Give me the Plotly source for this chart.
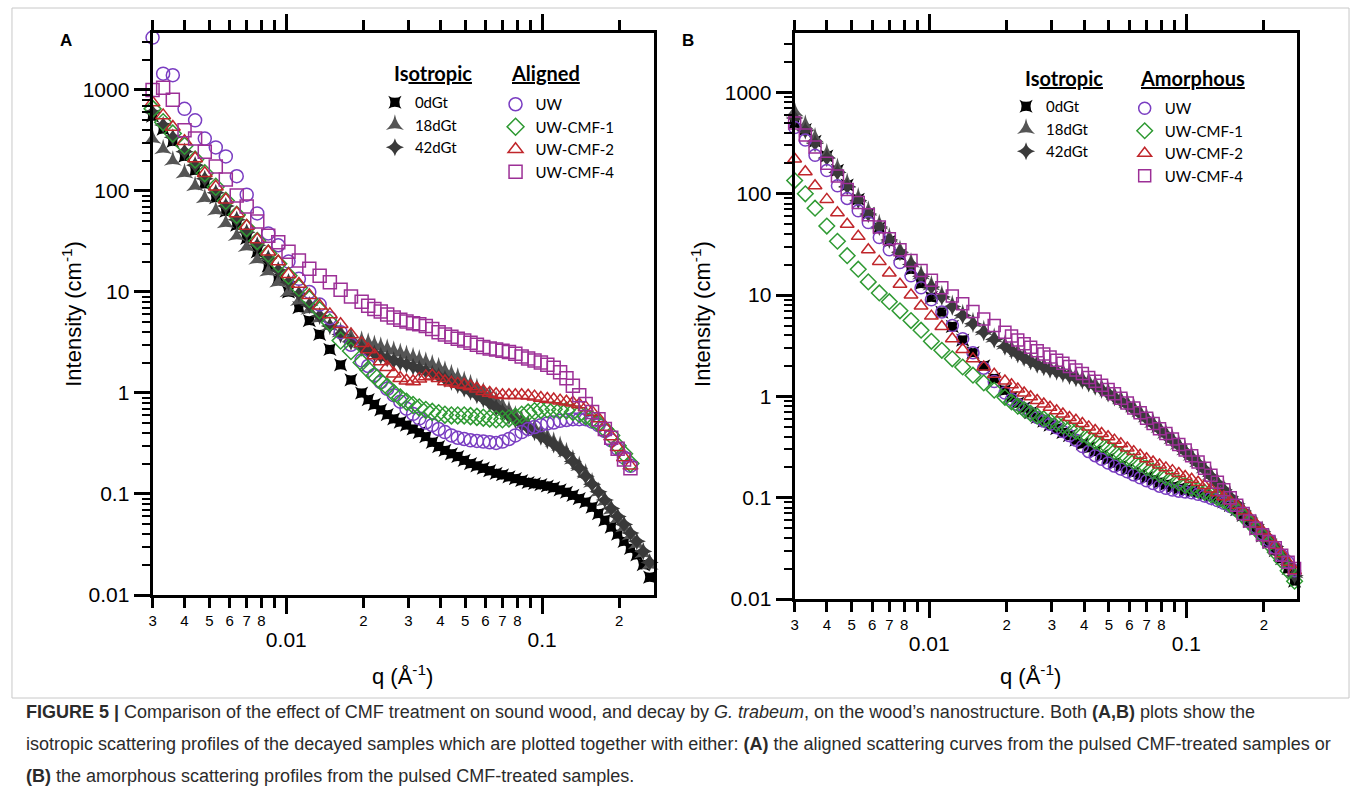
import math
import plotly.graph_objects as go

W, H = 1357, 802          # reference geometry (layout positions are given in these pixels)
FIG_H = 813               # rendered height (the capture is squeezed back to 802)

# ---------------- data ----------------
# q grid (Å^-1): coarser at low q, denser at high q (as in the measured curves)
q = [0.0030, 0.0033, 0.0036, 0.0040, 0.0044, 0.0048, 0.0053, 0.0058, 0.0064, 0.0070,
     0.0077, 0.0085, 0.0093, 0.0102, 0.0112, 0.0123, 0.0135, 0.0148, 0.0163, 0.0179,
     0.0197,
     0.0209, 0.0221, 0.0234, 0.0248, 0.0263, 0.0279, 0.0295, 0.0313, 0.0331, 0.0351,
     0.0372, 0.0394, 0.0417, 0.0442, 0.0468, 0.0496, 0.0525, 0.0556, 0.0589, 0.0624,
     0.0661, 0.0700, 0.0742, 0.0786, 0.0832, 0.0882, 0.0934, 0.0989, 0.1048, 0.1110,
     0.1176, 0.1245, 0.1319, 0.1397, 0.1480, 0.1568, 0.1661, 0.1759, 0.1863, 0.1974,
     0.2091, 0.2215, 0.2346, 0.2485, 0.2633]

# Panel A - isotropic (decayed)
A_0dGt = [550, 410, 310, 220, 160, 118, 86, 63, 46, 34, 25, 18, 13.5, 10, 7, 5.2, 3.8, 2.7, 1.9, 1.35, 1.0,
          0.86, 0.77, 0.68, 0.61, 0.555, 0.515, 0.48, 0.44, 0.405, 0.37,
          0.325, 0.295, 0.27, 0.25, 0.235, 0.215, 0.2, 0.19, 0.18, 0.17,
          0.16, 0.155, 0.148, 0.142, 0.136, 0.13, 0.127, 0.124, 0.12, 0.116,
          0.11, 0.104, 0.097, 0.09, 0.083, 0.074, 0.064, 0.055, 0.047, 0.04,
          0.034, 0.029, 0.025, 0.02, 0.015]
A_18dGt = [330, 260, 200, 150, 112, 85, 64, 48, 36, 28, 21, 16, 12.5, 10, 8.2, 6.7, 5.5, 4.6, 4.0, 3.6, 3.3,
           3.15, 3.0, 2.88, 2.75, 2.62, 2.5, 2.38, 2.26, 2.15, 2.04,
           1.92, 1.8, 1.66, 1.54, 1.43, 1.32, 1.22, 1.12, 1.02, 0.93,
           0.84, 0.75, 0.67, 0.6, 0.54, 0.49, 0.45, 0.41, 0.37, 0.33,
           0.3, 0.26, 0.22, 0.19, 0.16, 0.13, 0.105, 0.085, 0.07, 0.057,
           0.047, 0.039, 0.032, 0.026, 0.02]
A_42dGt = [600, 450, 340, 245, 180, 132, 96, 71, 52, 39, 29, 21.5, 16.5, 12.5, 9.6, 7.4, 5.8, 4.6, 3.8, 3.2, 2.8,
           2.6, 2.45, 2.33, 2.2, 2.1, 2.0, 1.92, 1.83, 1.74, 1.65,
           1.56, 1.47, 1.38, 1.29, 1.2, 1.11, 1.03, 0.95, 0.87, 0.79,
           0.72, 0.65, 0.59, 0.54, 0.49, 0.45, 0.41, 0.37, 0.34, 0.31,
           0.28, 0.25, 0.21, 0.18, 0.15, 0.125, 0.105, 0.087, 0.072, 0.06,
           0.05, 0.041, 0.034, 0.027, 0.021]
# Panel A - aligned (CMF-treated), end near q = 0.22
A_UW = [3300, 1450, 1400, 650, 500, 330, 270, 220, 140, 92, 60, 38, 29, 20, 13.5, 10, 7.5, 5.5, 4.0, 3.0, 2.1,
        1.85, 1.5, 1.28, 1.1, 0.95, 0.82, 0.7, 0.62, 0.56, 0.51,
        0.48, 0.44, 0.41, 0.38, 0.36, 0.35, 0.34, 0.335, 0.33, 0.325,
        0.32, 0.33, 0.35, 0.38, 0.41, 0.44, 0.46, 0.48, 0.5, 0.51,
        0.53, 0.54, 0.55, 0.55, 0.55, 0.52, 0.48, 0.42, 0.34, 0.28,
        0.23, 0.19]
A_CMF1 = [650, 480, 370, 280, 205, 150, 110, 80, 58, 43, 32, 24, 19, 14.5, 11, 8.5, 6.6, 5.0, 3.3, 2.6, 2.0,
          1.7, 1.48, 1.3, 1.15, 1.0, 0.9, 0.82, 0.76, 0.72, 0.68,
          0.65, 0.63, 0.61, 0.6, 0.6, 0.6, 0.59, 0.58, 0.57, 0.56,
          0.55, 0.55, 0.56, 0.58, 0.61, 0.64, 0.66, 0.68, 0.69, 0.69,
          0.68, 0.67, 0.65, 0.62, 0.59, 0.55, 0.5, 0.44, 0.38, 0.3,
          0.25, 0.2]
A_CMF2 = [750, 560, 430, 310, 210, 150, 110, 82, 60, 45, 33, 25, 20, 15, 12, 9.3, 7.3, 6.0, 4.8, 3.8, 3.1,
          2.7, 2.35, 2.05, 1.8, 1.55, 1.4, 1.32, 1.3, 1.38, 1.46,
          1.48, 1.4, 1.3, 1.26, 1.23, 1.2, 1.16, 1.1, 1.04, 1.0,
          0.97, 0.95, 0.95, 0.95, 0.95, 0.94, 0.92, 0.89, 0.87, 0.86,
          0.84, 0.82, 0.8, 0.77, 0.72, 0.65, 0.56, 0.46, 0.37, 0.29,
          0.23, 0.19]
A_CMF4 = [1000, 1050, 800, 400, 330, 245, 175, 130, 90, 70, 50, 36, 31, 25, 20.5, 17, 14.5, 12.5, 10.5, 9, 8,
          7.3, 6.8, 6.4, 6.0, 5.6, 5.3, 5.1, 4.9, 4.8, 4.6,
          4.3, 4.0, 3.8, 3.6, 3.45, 3.3, 3.15, 3.0, 2.85, 2.75,
          2.7, 2.62, 2.55, 2.45, 2.3, 2.2, 2.1, 2.0, 1.9, 1.78,
          1.6, 1.4, 1.18, 0.95, 0.78, 0.65, 0.55, 0.44, 0.36, 0.28,
          0.22, 0.18]

# Panel B - isotropic (decayed)
B_0dGt = [500, 430, 330, 235, 170, 122, 88, 64, 46, 34, 25, 18, 13, 9.5, 6.8, 4.9, 3.6, 2.7, 2.0, 1.5, 1.15,
          0.98, 0.86, 0.77, 0.69, 0.62, 0.57, 0.52, 0.48, 0.44, 0.41,
          0.37, 0.34, 0.31, 0.285, 0.26, 0.24, 0.22, 0.205, 0.19, 0.178,
          0.167, 0.158, 0.15, 0.142, 0.135, 0.128, 0.123, 0.119, 0.115, 0.112,
          0.108, 0.103, 0.097, 0.091, 0.084, 0.076, 0.067, 0.058, 0.049, 0.042,
          0.036, 0.03, 0.025, 0.02, 0.015]
B_18dGt = [650, 480, 360, 250, 180, 128, 92, 68, 50, 37, 28, 21, 16, 12.5, 10, 8, 6.5, 5.4, 4.5, 3.8, 3.25,
           3.0, 2.75, 2.52, 2.32, 2.15, 2.02, 1.92, 1.83, 1.75, 1.67,
           1.59, 1.5, 1.41, 1.32, 1.22, 1.12, 1.03, 0.94, 0.86, 0.78,
           0.7, 0.62, 0.55, 0.49, 0.43, 0.38, 0.335, 0.295, 0.26, 0.225,
           0.195, 0.168, 0.143, 0.122, 0.104, 0.088, 0.075, 0.064, 0.055, 0.047,
           0.04, 0.034, 0.028, 0.023, 0.018]
B_42dGt = [560, 420, 315, 225, 162, 118, 86, 63, 47, 35, 26.5, 20, 15.3, 12, 9.6, 7.7, 6.3, 5.2, 4.3, 3.65, 3.1,
           2.85, 2.6, 2.4, 2.22, 2.06, 1.94, 1.84, 1.75, 1.67, 1.59,
           1.51, 1.43, 1.34, 1.25, 1.16, 1.07, 0.98, 0.9, 0.82, 0.74,
           0.67, 0.6, 0.53, 0.47, 0.42, 0.37, 0.325, 0.285, 0.25, 0.218,
           0.19, 0.163, 0.14, 0.12, 0.102, 0.087, 0.074, 0.063, 0.054, 0.046,
           0.039, 0.033, 0.027, 0.022, 0.017]
# Panel B - amorphous (CMF-treated)
B_UW = [450, 340, 240, 170, 120, 90, 68, 52, 37, 28, 21, 15.5, 11.8, 9, 6.8, 5.0, 3.7, 2.7, 1.9, 1.4, 1.08,
        0.93, 0.83, 0.75, 0.68, 0.62, 0.57, 0.53, 0.49, 0.45, 0.41,
        0.37, 0.32, 0.285, 0.26, 0.24, 0.22, 0.205, 0.192, 0.18, 0.168,
        0.157, 0.147, 0.138, 0.13, 0.124, 0.119, 0.116, 0.114, 0.112, 0.108,
        0.104, 0.099, 0.094, 0.088, 0.082, 0.075, 0.067, 0.059, 0.051, 0.044,
        0.038, 0.032, 0.027, 0.023, 0.019]
B_CMF1 = [135, 100, 72, 48, 34, 24.5, 18, 13.5, 10.5, 8.6, 7, 5.6, 4.5, 3.5, 2.85, 2.35, 1.95, 1.62, 1.36, 1.15, 0.98,
          0.88, 0.8, 0.74, 0.68, 0.64, 0.6, 0.57, 0.54, 0.51, 0.48,
          0.45, 0.42, 0.39, 0.36, 0.335, 0.31, 0.285, 0.265, 0.245, 0.228,
          0.212, 0.197, 0.183, 0.17, 0.159, 0.149, 0.14, 0.132, 0.125, 0.119,
          0.113, 0.107, 0.1, 0.093, 0.085, 0.076, 0.066, 0.057, 0.049, 0.042,
          0.035, 0.029, 0.024, 0.019, 0.015]
B_CMF2 = [220, 165, 120, 88, 65, 50, 38, 28, 21.5, 16.5, 12.8, 10, 7.8, 6.2, 4.9, 3.7, 2.9, 2.35, 1.95, 1.65, 1.42,
          1.3, 1.18, 1.08, 0.99, 0.91, 0.84, 0.78, 0.72, 0.67, 0.62,
          0.58, 0.54, 0.5, 0.46, 0.43, 0.4, 0.37, 0.34, 0.31, 0.285,
          0.262, 0.242, 0.225, 0.21, 0.197, 0.185, 0.173, 0.162, 0.152, 0.142,
          0.132, 0.122, 0.112, 0.102, 0.093, 0.084, 0.074, 0.064, 0.055, 0.047,
          0.04, 0.034, 0.028, 0.023, 0.019]
B_CMF4 = [500, 380, 290, 200, 150, 110, 82, 62, 47, 36, 28, 22, 17.5, 14, 11.8, 9.8, 8.2, 6.9, 5.8, 5.0, 4.3,
          3.95, 3.6, 3.3, 3.05, 2.82, 2.62, 2.45, 2.28, 2.12, 1.97,
          1.82, 1.68, 1.54, 1.41, 1.29, 1.17, 1.06, 0.96, 0.86, 0.77,
          0.69, 0.61, 0.54, 0.48, 0.43, 0.38, 0.335, 0.295, 0.26, 0.225,
          0.195, 0.167, 0.142, 0.12, 0.1, 0.084, 0.07, 0.059, 0.05, 0.043,
          0.037, 0.032, 0.027, 0.023, 0.02]

iso_names = ["0dGt", "18dGt", "42dGt"]
cmf_names = ["UW", "UW-CMF-1", "UW-CMF-2", "UW-CMF-4"]

x_label_vals = [0.003, 0.004, 0.005, 0.006, 0.007, 0.008,
                0.02, 0.03, 0.04, 0.05, 0.06, 0.07, 0.08, 0.2]
x_label_text = ["3", "4", "5", "6", "7", "8", "2", "3", "4", "5", "6", "7", "8", "2"]
x_unlabelled = [0.009, 0.09]
x_major_vals = [0.01, 0.1]
x_major_text = ["0.01", "0.1"]
y_major_vals = [0.01, 0.1, 1, 10, 100, 1000]
y_major_text = ["0.01", "0.1", "1", "10", "100", "1000"]

# ---------------- styles ----------------
ISO_STYLE = {
    "0dGt": dict(symbol="star-square", color="#000000", size=12),
    "18dGt": dict(symbol="star-triangle-up", color="#555555", size=13),
    "42dGt": dict(symbol="star-diamond", color="#3a3a3a", size=13),
}
CMF_STYLE = {
    "UW": dict(symbol="circle-open", color="#7a3dc2"),
    "UW-CMF-1": dict(symbol="diamond-open", color="#2f9a33"),
    "UW-CMF-2": dict(symbol="triangle-up-open", color="#c0262b"),
    "UW-CMF-4": dict(symbol="square-open", color="#9c2f96"),
}
TICK_FONT = "Liberation Sans, Arial, sans-serif"
LEG_FONT = "Lato, Open Sans, sans-serif"

fig = go.Figure()


def add_iso(vals, xa, ya, leg):
    for name, v in zip(iso_names, vals):
        st = ISO_STYLE[name]
        fig.add_trace(go.Scatter(
            x=q[:len(v)], y=v, mode="markers", name=name, xaxis=xa, yaxis=ya,
            legend=leg, cliponaxis=False,
            marker=dict(symbol=st["symbol"], color=st["color"], size=st["size"],
                        line=dict(width=0))))


def add_cmf(vals, xa, ya, leg, size):
    for name, v in zip(cmf_names, vals):
        st = CMF_STYLE[name]
        fig.add_trace(go.Scatter(
            x=q[:len(v)], y=v, mode="markers", name=name, xaxis=xa, yaxis=ya,
            legend=leg, cliponaxis=False,
            marker=dict(symbol=st["symbol"], color=st["color"], size=size,
                        line=dict(width=1.5, color=st["color"]))))


add_iso([A_0dGt, A_18dGt, A_42dGt], "x", "y", "legend")
add_cmf([A_UW, A_CMF1, A_CMF2, A_CMF4], "x", "y", "legend2", 13)
add_iso([B_0dGt, B_18dGt, B_42dGt], "x2", "y2", "legend3")
add_cmf([B_UW, B_CMF1, B_CMF2, B_CMF4], "x2", "y2", "legend4", 12)

# empty helper traces so that the overlay axes (decade ticks) get drawn
for xa, ya in (("x3", "y"), ("x4", "y2")):
    fig.add_trace(go.Scatter(x=[], y=[], xaxis=xa, yaxis=ya, mode="markers",
                             showlegend=False, hoverinfo="skip"))

# ---------------- axes ----------------
y_minor = [m * 10 ** e for e in range(-2, 4) for m in range(2, 10)]


def xaxis_main(domain, xmax, anchor):
    return dict(type="log", domain=domain, anchor=anchor,
                range=[math.log10(0.003), math.log10(xmax)],
                showline=True, linecolor="black", linewidth=3, mirror="allticks",
                ticks="outside", ticklen=10, tickwidth=3, tickcolor="black",
                tickmode="array", tickvals=x_label_vals, ticktext=x_label_text,
                tickfont=dict(family=TICK_FONT, size=15, color="black"),
                minor=dict(tickmode="array", tickvals=x_unlabelled, ticks="outside",
                           ticklen=10, tickwidth=3, tickcolor="black"),
                showgrid=False, zeroline=False)


def xaxis_major(over, xmax, anchor):
    return dict(type="log", overlaying=over, anchor=anchor, side="bottom",
                range=[math.log10(0.003), math.log10(xmax)],
                showline=False, mirror="allticks",
                ticks="outside", ticklen=18, tickwidth=3, tickcolor="black",
                tickmode="array", tickvals=x_major_vals, ticktext=x_major_text,
                tickfont=dict(family=TICK_FONT, size=21, color="black"),
                ticklabelstandoff=8, showgrid=False, zeroline=False)


def yaxis(domain, ymax, anchor):
    return dict(type="log", domain=domain, anchor=anchor, range=[-2, ymax],
                showline=True, linecolor="black", linewidth=3, mirror=True,
                ticks="outside", ticklen=16, tickwidth=3, tickcolor="black",
                tickmode="array", tickvals=y_major_vals, ticktext=y_major_text,
                tickfont=dict(family=TICK_FONT, size=21, color="black"),
                minor=dict(tickmode="array", tickvals=y_minor, ticks="outside",
                           ticklen=8, tickwidth=2, tickcolor="black"),
                showgrid=False, zeroline=False)


fig.update_layout(
    xaxis=xaxis_main([149 / W, 652 / W], 0.274, "y"),
    yaxis=yaxis([1 - 595 / H, 1 - 33 / H], 3.564, "x"),
    xaxis3=xaxis_major("x", 0.274, "y"),
    xaxis2=xaxis_main([793 / W, 1297 / W], 0.2695, "y2"),
    yaxis2=yaxis([1 - 599 / H, 1 - 33 / H], 3.587, "x2"),
    xaxis4=xaxis_major("x2", 0.2695, "y2"),
)


def leg(x, y):
    return dict(x=x / W, y=1 - y / H, xanchor="left", yanchor="top",
                bgcolor="rgba(0,0,0,0)", borderwidth=0,
                font=dict(family=LEG_FONT, size=15, color="black"),
                itemwidth=30, tracegroupgap=0)


fig.update_layout(
    legend=leg(372, 86),
    legend2=leg(493, 88),
    legend3=leg(1005, 90),
    legend4=leg(1124, 92),
)

# ---------------- text ----------------
ann = []


def txt(text, x, y, size, family=TICK_FONT, **kw):
    d = dict(text=text, x=x / W, y=1 - y / H, xref="paper", yref="paper",
             xanchor="center", yanchor="middle", showarrow=False,
             font=dict(family=family, size=size, color="black"))
    d.update(kw)
    ann.append(d)


# legend headings
txt("<b>Is<u>otropic</u></b>", 389, 73, 20, family=LEG_FONT, xanchor="left")
txt("<b><u>Aligned</u></b>", 506, 73, 20, family=LEG_FONT, xanchor="left")
txt("<b>Is<u>otropic</u></b>", 1022, 78, 20, family=LEG_FONT, xanchor="left")
txt("<b><u>Amorphous</u></b>", 1137, 78, 20, family=LEG_FONT, xanchor="left")

txt("<b>A</b>", 62, 41, 17)
txt("<b>B</b>", 686, 41, 17)
for cx in (68, 699):
    txt("Intensity (cm<sup>-1</sup>)", cx, 314, 22, textangle=-90)
for cx in (400, 1030):
    txt("q (Å<sup>-1</sup>)", cx, 675, 22)

cap_lines = [
    "<b>FIGURE 5 |</b> Comparison of the effect of CMF treatment on sound wood, and decay by <i>G. trabeum</i>, on the wood\u2019s nanostructure. Both <b>(A,B)</b> plots show the",
    "isotropic scattering profiles of the decayed samples which are plotted together with either: <b>(A)</b> the aligned scattering curves from the pulsed CMF-treated samples or",
    "<b>(B)</b> the amorphous scattering profiles from the pulsed CMF-treated samples.",
]
for i, t in enumerate(cap_lines):
    ann.append(dict(text=t, x=20 / W, y=1 - (712 + 32 * i) / H, xref="paper", yref="paper",
                    xanchor="left", yanchor="middle", showarrow=False, align="left",
                    font=dict(family=TICK_FONT, size=18, color="#2b2b2b")))

fig.update_layout(annotations=ann)

fig.add_shape(type="rect", xref="paper", yref="paper",
              x0=8 / W, x1=1349 / W, y0=1 - 698 / H, y1=1 - 8 / H,
              line=dict(color="#c8c8c8", width=1), fillcolor="rgba(0,0,0,0)", layer="below")

fig.update_layout(width=W, height=FIG_H, autosize=False,
                  margin=dict(l=0, r=0, t=0, b=0),
                  paper_bgcolor="white", plot_bgcolor="white",
                  showlegend=True)

page_js = (
    "var s=document.documentElement.style,b=document.body.style;"
    "s.margin='0';s.padding='0';s.overflow='hidden';"
    "b.margin='0';b.padding='0';b.overflow='hidden';"
)
fig.write_html("out.html", config={"displayModeBar": False}, post_script=page_js)
